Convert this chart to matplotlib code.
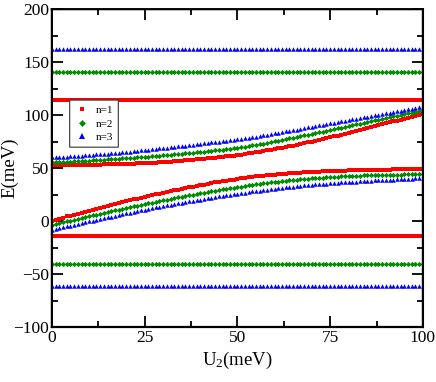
import matplotlib.pyplot as plt
import numpy as np
from matplotlib.ticker import MultipleLocator

plt.rcParams['font.family'] = ['Liberation Serif', 'DejaVu Serif']
plt.rcParams['mathtext.fontset'] = 'custom'
plt.rcParams['mathtext.rm'] = 'Liberation Serif'
plt.rcParams['mathtext.it'] = 'Liberation Serif:italic'
plt.rcParams['path.snap'] = False

##### Data #####
U2 = np.arange(0, 101)  # meV, step 1

# flat levels
red_high, red_low = 114.5, -14.0
green_high, green_low = 141.0, -40.5
blue_high, blue_low = 162.0, -61.0

# upper dispersive branch
red_up = [52.8, 52.8, 52.8, 52.9, 52.9, 52.9, 52.9, 53.0, 53.0, 53.1,
          53.1, 53.2, 53.3, 53.3, 53.4, 53.5, 53.6, 53.7, 53.8, 53.9,
          54.0, 54.1, 54.2, 54.4, 54.5, 54.6, 54.8, 55.0, 55.2, 55.4,
          55.6, 55.9, 56.2, 56.4, 56.7, 57.0, 57.3, 57.6, 58.0, 58.3,
          58.6, 58.9, 59.2, 59.6, 59.9, 60.2, 60.6, 61.0, 61.4, 61.8,
          62.2, 62.7, 63.2, 63.8, 64.3, 64.8, 65.4, 66.0, 66.6, 67.2,
          67.8, 68.5, 69.2, 69.8, 70.5, 71.2, 72.0, 72.7, 73.5, 74.2,
          75.0, 75.8, 76.6, 77.4, 78.2, 79.0, 79.9, 80.7, 81.6, 82.4,
          83.3, 84.2, 85.0, 85.9, 86.8, 87.7, 88.6, 89.5, 90.4, 91.3,
          92.2, 93.1, 94.0, 94.8, 95.7, 96.6, 97.5, 98.4, 99.2, 100.1,
          101.0]
green_up = [55.3, 55.5, 55.7, 55.8, 56.0, 56.2, 56.4, 56.6, 56.7, 56.9,
            57.1, 57.3, 57.5, 57.7, 57.9, 58.1, 58.3, 58.6, 58.8, 59.1,
            59.3, 59.5, 59.8, 60.0, 60.3, 60.5, 60.8, 61.1, 61.3, 61.6,
            61.9, 62.2, 62.5, 62.9, 63.2, 63.5, 63.8, 64.2, 64.5, 64.9,
            65.2, 65.6, 65.9, 66.3, 66.6, 67.0, 67.4, 67.9, 68.3, 68.8,
            69.2, 69.7, 70.3, 70.8, 71.4, 71.9, 72.6, 73.2, 73.9, 74.5,
            75.2, 75.9, 76.6, 77.3, 78.0, 78.7, 79.4, 80.1, 80.9, 81.6,
            82.3, 83.0, 83.7, 84.5, 85.2, 85.9, 86.7, 87.4, 88.2, 88.9,
            89.7, 90.5, 91.2, 92.0, 92.7, 93.5, 94.2, 95.0, 95.7, 96.5,
            97.2, 97.9, 98.7, 99.4, 100.2, 100.9, 101.6, 102.3, 103.1, 103.8,
            104.5]
blue_up = [60.0, 60.2, 60.4, 60.7, 60.9, 61.1, 61.3, 61.6, 61.8, 62.1,
           62.3, 62.6, 62.9, 63.1, 63.4, 63.7, 64.0, 64.3, 64.7, 65.0,
           65.3, 65.6, 66.0, 66.3, 66.7, 67.0, 67.4, 67.8, 68.1, 68.5,
           68.9, 69.3, 69.7, 70.1, 70.5, 70.9, 71.3, 71.7, 72.2, 72.6,
           73.0, 73.4, 73.8, 74.2, 74.6, 75.0, 75.4, 75.9, 76.3, 76.8,
           77.2, 77.7, 78.2, 78.8, 79.3, 79.8, 80.4, 81.0, 81.5, 82.1,
           82.7, 83.3, 83.9, 84.6, 85.2, 85.8, 86.4, 87.1, 87.7, 88.4,
           89.0, 89.6, 90.3, 90.9, 91.6, 92.2, 92.8, 93.4, 94.1, 94.7,
           95.3, 95.9, 96.5, 97.2, 97.8, 98.4, 99.0, 99.7, 100.3, 101.0,
           101.6, 102.2, 102.9, 103.5, 104.2, 104.8, 105.4, 106.1, 106.7, 107.4,
           108.0]

# lower dispersive branch
red_down = [0.5, 1.4, 2.4, 3.3, 4.3, 5.2, 6.1, 7.0, 8.0, 8.9,
            9.8, 10.7, 11.6, 12.5, 13.4, 14.3, 15.2, 16.1, 16.9, 17.8,
            18.7, 19.5, 20.4, 21.2, 22.1, 22.9, 23.7, 24.5, 25.2, 26.0,
            26.8, 27.5, 28.2, 29.0, 29.7, 30.4, 31.1, 31.8, 32.4, 33.1,
            33.8, 34.4, 35.1, 35.7, 36.4, 37.0, 37.6, 38.1, 38.7, 39.2,
            39.8, 40.3, 40.7, 41.2, 41.6, 42.1, 42.5, 42.8, 43.2, 43.5,
            43.9, 44.2, 44.5, 44.7, 45.0, 45.3, 45.5, 45.7, 46.0, 46.2,
            46.4, 46.6, 46.7, 46.9, 47.0, 47.2, 47.3, 47.4, 47.6, 47.7,
            47.8, 47.9, 48.0, 48.1, 48.2, 48.3, 48.4, 48.4, 48.5, 48.5,
            48.6, 48.6, 48.7, 48.7, 48.8, 48.8, 48.8, 48.9, 48.9, 49.0,
            49.0]
green_down = [-3.8, -3.0, -2.1, -1.3, -0.4, 0.4, 1.2, 2.0, 2.9, 3.7,
              4.5, 5.3, 6.1, 6.9, 7.7, 8.5, 9.3, 10.1, 10.8, 11.6,
              12.4, 13.1, 13.9, 14.6, 15.4, 16.1, 16.8, 17.5, 18.2, 18.9,
              19.6, 20.3, 21.0, 21.6, 22.3, 23.0, 23.6, 24.3, 24.9, 25.6,
              26.2, 26.8, 27.4, 28.0, 28.6, 29.2, 29.8, 30.3, 30.9, 31.4,
              32.0, 32.5, 33.0, 33.6, 34.1, 34.6, 35.1, 35.5, 36.0, 36.4,
              36.9, 37.3, 37.7, 38.0, 38.4, 38.8, 39.1, 39.4, 39.8, 40.1,
              40.4, 40.6, 40.9, 41.1, 41.4, 41.6, 41.8, 42.0, 42.1, 42.3,
              42.5, 42.6, 42.8, 42.9, 43.1, 43.2, 43.3, 43.4, 43.5, 43.6,
              43.7, 43.8, 43.8, 43.9, 43.9, 44.0, 44.1, 44.1, 44.2, 44.2,
              44.3]
blue_down = [-8.0, -7.2, -6.5, -5.7, -5.0, -4.2, -3.4, -2.7, -1.9, -1.2,
             -0.4, 0.4, 1.1, 1.9, 2.6, 3.4, 4.2, 4.9, 5.7, 6.4,
             7.2, 7.9, 8.6, 9.4, 10.1, 10.8, 11.5, 12.1, 12.8, 13.4,
             14.1, 14.7, 15.4, 16.0, 16.7, 17.3, 17.9, 18.5, 19.1, 19.7,
             20.3, 20.9, 21.5, 22.0, 22.6, 23.2, 23.7, 24.3, 24.8, 25.4,
             25.9, 26.4, 26.9, 27.4, 27.9, 28.4, 28.8, 29.3, 29.7, 30.2,
             30.6, 31.0, 31.4, 31.8, 32.2, 32.6, 32.9, 33.3, 33.6, 34.0,
             34.3, 34.6, 34.9, 35.1, 35.4, 35.7, 35.9, 36.2, 36.4, 36.7,
             36.9, 37.1, 37.3, 37.5, 37.7, 37.9, 38.1, 38.3, 38.4, 38.6,
             38.8, 39.0, 39.2, 39.3, 39.5, 39.7, 39.9, 40.0, 40.2, 40.3,
             40.5]

series = {
    'n=1': dict(color='#ff0000', marker='s', ms=2.3, levels=(red_high, red_low), up=red_up, down=red_down),
    'n=2': dict(color='#008b00', marker='D', ms=2.7, levels=(green_high, green_low), up=green_up, down=green_down),
    'n=3': dict(color='#0000ff', marker='^', ms=3.2, levels=(blue_high, blue_low), up=blue_up, down=blue_down),
}

##### Plot #####
fig = plt.figure(figsize=(4.36, 3.82), dpi=100)
ax = fig.add_axes([0.119, 0.144, 0.851, 0.832])

for name, s in series.items():
    kw = dict(linestyle='none', marker=s['marker'], ms=s['ms'], color=s['color'], mec=s['color'], mew=0)
    ax.plot(U2, np.full(len(U2), s['levels'][0]), **kw)
    ax.plot(U2, np.full(len(U2), s['levels'][1]), **kw)
    ax.plot(U2, s['up'], **kw)
    ax.plot(U2, s['down'], label=name, **kw)

ax.set_xlim(0, 100)
ax.set_ylim(-100, 200)
ax.xaxis.set_major_locator(MultipleLocator(25))
ax.xaxis.set_minor_locator(MultipleLocator(12.5))
ax.yaxis.set_major_locator(MultipleLocator(50))
ax.yaxis.set_minor_locator(MultipleLocator(25))
ax.tick_params(which='both', direction='in', top=True, right=True, width=1.3, labelsize=12.5)
ax.tick_params(which='major', length=8, pad=2)
ax.tick_params(which='minor', length=4.5)
for sp in ax.spines.values():
    sp.set_linewidth(1.6)

ax.set_xlabel('U$_2$(meV)', fontsize=13.5, labelpad=3)
ax.set_ylabel('E(meV)', fontsize=13.5)
ax.yaxis.set_label_coords(-0.09, 0.5)

leg = ax.legend(loc='upper left', bbox_to_anchor=(0.048, 0.714), borderaxespad=0,
                fontsize=8, fancybox=False, framealpha=1, edgecolor='#333333',
                handletextpad=0.6, handlelength=1.3, labelspacing=0.35, markerscale=1.3,
                borderpad=0.45)
leg.get_frame().set_linewidth(0.8)

fig.savefig('out.png', dpi=100)
